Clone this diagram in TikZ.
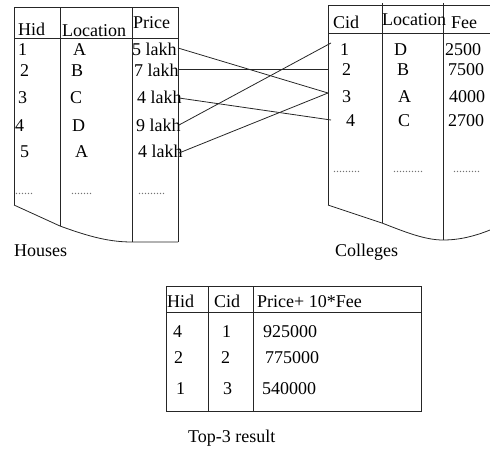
\documentclass[tikz,border=0pt]{standalone}
\usepackage{fontspec}
\setmainfont{Liberation Serif}
\begin{document}
\begin{tikzpicture}[x=1pt,y=-1pt,
  tx/.style={inner sep=0pt, anchor=base west, font=\fontsize{18}{20}\selectfont},
  dotx/.style={inner sep=0pt, anchor=base west, font=\fontsize{12}{14}\selectfont, text=black!55},
  rule/.style={draw=black!85, line width=0.8pt},
  link/.style={draw=black!85, line width=0.8pt}]
\useasboundingbox (0,0) rectangle (490,448);
% ---------- Houses table ----------
\draw[rule] (14,7) -- (178,7);
\draw[rule] (14,38) -- (178,38);
\draw[rule] (14,7) -- (14,205);
\draw[rule] (60,7) -- (60,226);
\draw[rule] (132,7) -- (132,242);
\draw[rule] (178,7) -- (178,242);
\draw[rule] (14,205) -- (60,226) .. controls (90,237) and (110,242) .. (132,242) -- (178,242);
\node[tx] (hh) at (18,35) {Hid};
\node[tx] (hl) at (62,36) {Location};
\node[tx] (hp) at (133,28) {Price};
\node[tx] (h1) at (18,55) {1};
\node[tx] (h2) at (20,76) {2};
\node[tx] (h3) at (18,103) {3};
\node[tx] (h4) at (15,131) {4};
\node[tx] (h5) at (20,157) {5};
\node[tx] (l1) at (73,55) {A};
\node[tx] (l2) at (71,76) {B};
\node[tx] (l3) at (70,103) {C};
\node[tx] (l4) at (72,131) {D};
\node[tx] (l5) at (75,157) {A};
\node[tx] (pr1) at (132,55) {5 lakh};
\node[tx] (pr2) at (134,76) {7 lakh};
\node[tx] (pr3) at (137,103) {4 lakh};
\node[tx] (pr4) at (136,131) {9 lakh};
\node[tx] (pr5) at (138,157) {4 lakh};
\node[dotx] (hd1) at (15,194) {......};
\node[dotx] (hd2) at (71,194) {.......};
\node[dotx] (hd3) at (138,194) {.........};
\node[tx] (houses) at (14,256) {Houses};
% ---------- Colleges table ----------
\draw[rule] (328,5) -- (490,5);
\draw[rule] (328,33) -- (490,33);
\draw[rule] (328,5) -- (328,205);
\draw[rule] (382,3) -- (382,223);
\draw[rule] (443,3) -- (443,240);
\draw[rule] (328,205) -- (382,223) .. controls (405,232) and (425,240) .. (443,240) .. controls (460,240) and (475,236) .. (490,230);
\node[tx] (cc) at (333,28) {Cid};
\node[tx] (cl) at (382,25) {Location};
\node[tx] (cf) at (451,28) {Fee};
\node[tx] (c1t) at (340,55) {1};
\node[tx] (c2t) at (342,75) {2};
\node[tx] (c3t) at (342,102) {3};
\node[tx] (c4t) at (346,126) {4};
\node[tx] (cl1) at (394,55) {D};
\node[tx] (cl2) at (397,75) {B};
\node[tx] (cl3) at (398,102) {A};
\node[tx] (cl4) at (398,126) {C};
\node[tx] (f1) at (445,55) {2500};
\node[tx] (f2) at (448,75) {7500};
\node[tx] (f3) at (449,102) {4000};
\node[tx] (f4) at (448,126) {2700};
\node[dotx] (cd1) at (333,172) {.........};
\node[dotx] (cd2) at (393,172) {..........};
\node[dotx] (cd3) at (453,172) {.........};
\node[tx] (colleges) at (335,256) {Colleges};
% ---------- connectors ----------
\coordinate (p1) at (178,48);
\coordinate (p2) at (178,69);
\coordinate (p3) at (179,98);
\coordinate (p4) at (179,125);
\coordinate (p5) at (179,153);
\coordinate (q1) at (331,43);
\coordinate (q2) at (328,69);
\coordinate (q3) at (328,93);
\coordinate (q4) at (331,120);
\draw[link] (p1) -- (q3);
\draw[link] (p2) -- (q2);
\draw[link] (p3) -- (q4);
\draw[link] (p4) -- (q1);
\draw[link] (p5) -- (q3);
% ---------- Result table ----------
\draw[rule] (166,286) rectangle (421,411);
\draw[rule] (166,312) -- (421,312);
\draw[rule] (208,286) -- (208,411);
\draw[rule] (253,286) -- (253,411);
\node[tx] (rh) at (167,307) {Hid};
\node[tx] (rc) at (214,307) {Cid};
\node[tx] (rp) at (257,307) {Price+ 10*Fee};
\node[tx] (r1a) at (173,337) {4};
\node[tx] (r2a) at (174,363) {2};
\node[tx] (r3a) at (176,394) {1};
\node[tx] (r1b) at (222,337) {1};
\node[tx] (r2b) at (221,363) {2};
\node[tx] (r3b) at (223,394) {3};
\node[tx] (r1c) at (263,337) {925000};
\node[tx] (r2c) at (265,363) {775000};
\node[tx] (r3c) at (262,394) {540000};
\node[tx] (top) at (188,442) {Top-3 result};
\end{tikzpicture}
\end{document}
